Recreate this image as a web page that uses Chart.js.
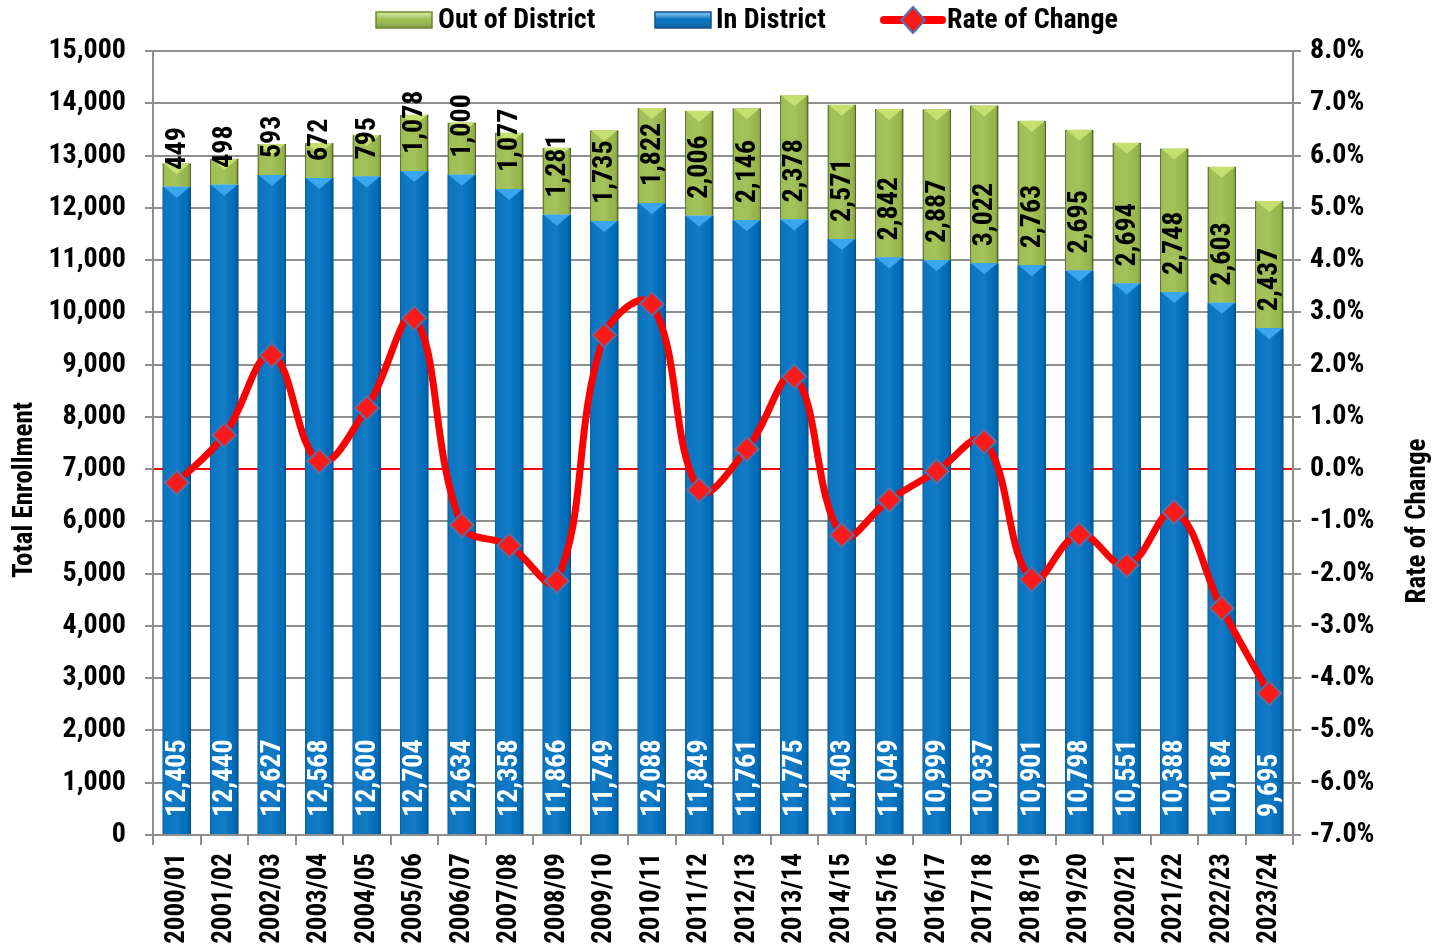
<!DOCTYPE html>
<html>
<head>
<meta charset="utf-8">
<script src="https://cdn.jsdelivr.net/npm/chart.js@4.4.1/dist/chart.umd.min.js"></script>
<style>
html,body{margin:0;padding:0;background:#ffffff;}
#wrap{width:1436px;height:945px;position:relative;overflow:hidden;}
</style>
</head>
<body>
<div id="wrap"><canvas id="c" width="1436" height="945"></canvas></div>
<script>
// ---- data ----
const categories = ['2000/01','2001/02','2002/03','2003/04','2004/05','2005/06','2006/07','2007/08','2008/09','2009/10','2010/11','2011/12','2012/13','2013/14','2014/15','2015/16','2016/17','2017/18','2018/19','2019/20','2020/21','2021/22','2022/23','2023/24'];
const inDistrict = [12405,12440,12627,12568,12600,12704,12634,12358,11866,11749,12088,11849,11761,11775,11403,11049,10999,10937,10901,10798,10551,10388,10184,9695];
const outDistrict = [449,498,593,672,795,1078,1000,1077,1281,1735,1822,2006,2146,2378,2571,2842,2887,3022,2763,2695,2694,2748,2603,2437];
const rateOfChange = [-0.26,0.65,2.18,0.15,1.17,2.89,-1.07,-1.46,-2.14,2.56,3.16,-0.40,0.38,1.77,-1.26,-0.59,-0.04,0.53,-2.11,-1.25,-1.84,-0.82,-2.66,-4.29];
const seriesLabels = ['In District','Out of District','Rate of Change'];
const axisTitles = ['Total Enrollment','Rate of Change'];

const FONT = "'Liberation Sans Narrow','Arial Narrow','Roboto Condensed','Liberation Sans',sans-serif";
const GRID = '#8f8f8f';
const BLUE = '#0070c0';
const GREEN = '#9cbd4e';
const GREEN_EDGE = '#6d8a2c';

Chart.defaults.font.family = FONT;
Chart.defaults.font.weight = 'bold';
Chart.defaults.font.size = 28;
Chart.defaults.color = '#000';

const fmt = v => Number(v).toLocaleString('en-US');

// bevel / shading for bars
const barShade = {
  id: 'barShade',
  afterDatasetDraw(chart, args) {
    const meta = args.meta;
    if (meta.type !== 'bar') return;
    const ctx = chart.ctx;
    const isBlue = args.index === 0;
    ctx.save();
    meta.data.forEach(el => {
      const p = el.getProps(['x','y','base','width'], true);
      const l = p.x - p.width/2, r = p.x + p.width/2;
      const t = Math.min(p.y, p.base), b = Math.max(p.y, p.base);
      const g = ctx.createLinearGradient(l, 0, r, 0);
      g.addColorStop(0, 'rgba(0,0,0,0.18)');
      g.addColorStop(0.12, 'rgba(255,255,255,0.04)');
      g.addColorStop(0.5, 'rgba(255,255,255,0.08)');
      g.addColorStop(0.88, 'rgba(0,0,0,0.04)');
      g.addColorStop(1, 'rgba(0,0,0,0.28)');
      ctx.fillStyle = g;
      ctx.fillRect(l, t, r - l, b - t);
      const th = Math.min(11, (b - t) / 2);
      ctx.beginPath();
      ctx.moveTo(l + 1, t);
      ctx.lineTo(r - 1, t);
      ctx.lineTo(p.x, t + th);
      ctx.closePath();
      ctx.fillStyle = isBlue ? '#3aa6ee' : '#c6e070';
      ctx.fill();
    });
    ctx.restore();
  }
};

// value labels (rotated, inside base)
const valueLabels = {
  id: 'valueLabels',
  afterDatasetsDraw(chart) {
    const ctx = chart.ctx;
    ctx.save();
    ctx.font = 'bold 28px ' + FONT;
    ctx.textAlign = 'left';
    ctx.textBaseline = 'middle';
    [0, 1].forEach(di => {
      const meta = chart.getDatasetMeta(di);
      const vals = chart.data.datasets[di].data;
      ctx.fillStyle = di === 0 ? '#ffffff' : '#000000';
      meta.data.forEach((el, i) => {
        const p = el.getProps(['x','base'], true);
        ctx.save();
        ctx.translate(p.x + 1, p.base - 17);
        ctx.rotate(-Math.PI/2);
        ctx.fillText(fmt(vals[i]), 0, 0);
        ctx.restore();
      });
    });
    ctx.restore();
  }
};

// axis titles + legend
const decorations = {
  id: 'decorations',
  afterDraw(chart) {
    const ctx = chart.ctx;
    ctx.save();
    ctx.fillStyle = '#000';
    ctx.font = 'bold 27px ' + FONT;
    ctx.textAlign = 'center';
    ctx.textBaseline = 'middle';
    ctx.save(); ctx.translate(25, 490); ctx.rotate(-Math.PI/2); ctx.fillText(axisTitles[0], 0, 0); ctx.restore();
    ctx.save(); ctx.translate(1418, 521); ctx.rotate(-Math.PI/2); ctx.fillText(axisTitles[1], 0, 0); ctx.restore();

    // legend
    ctx.font = 'bold 28px ' + FONT;
    ctx.textAlign = 'left';
    const cy = 20;
    const drawBox = (x, fill, edge, hi) => {
      const w = 56, h = 16, t = cy - h/2;
      ctx.fillStyle = fill;
      ctx.fillRect(x, t, w, h);
      const g = ctx.createLinearGradient(0, t, 0, t + h);
      g.addColorStop(0, hi);
      g.addColorStop(0.45, 'rgba(255,255,255,0)');
      g.addColorStop(1, 'rgba(0,0,0,0.25)');
      ctx.fillStyle = g;
      ctx.fillRect(x, t, w, h);
      ctx.strokeStyle = edge; ctx.lineWidth = 1.5;
      ctx.strokeRect(x, t, w, h);
    };
    const ds = chart.data.datasets;
    drawBox(376, ds[1].backgroundColor, GREEN_EDGE, 'rgba(220,240,150,0.9)');
    ctx.fillStyle = '#000'; ctx.fillText(ds[1].label, 438, cy + 1);
    drawBox(655, ds[0].backgroundColor, '#1b4f8a', 'rgba(120,200,255,0.9)');
    ctx.fillStyle = '#000'; ctx.fillText(ds[0].label, 716, cy + 1);
    // line symbol
    ctx.strokeStyle = ds[2].borderColor; ctx.lineWidth = 8; ctx.lineCap = 'round';
    ctx.beginPath(); ctx.moveTo(884, cy); ctx.lineTo(942, cy); ctx.stroke();
    ctx.beginPath();
    ctx.moveTo(913, cy - 13); ctx.lineTo(925, cy); ctx.lineTo(913, cy + 13); ctx.lineTo(901, cy); ctx.closePath();
    ctx.fillStyle = '#ff1a1a'; ctx.fill();
    ctx.strokeStyle = '#4f72a8'; ctx.lineWidth = 2; ctx.stroke();
    ctx.fillStyle = '#000'; ctx.fillText(ds[2].label, 947, cy + 1);
    ctx.restore();
  }
};

new Chart(document.getElementById('c'), {
  data: {
    labels: categories,
    datasets: [
      { type: 'bar', label: seriesLabels[0], data: inDistrict, backgroundColor: BLUE,
        borderColor: '#0a5a9a', borderWidth: 0, yAxisID: 'y', stack: 's', order: 1,
        barPercentage: 0.6, categoryPercentage: 1.0 },
      { type: 'bar', label: seriesLabels[1], data: outDistrict, backgroundColor: GREEN,
        borderColor: GREEN_EDGE, borderWidth: 1.5, yAxisID: 'y', stack: 's', order: 1,
        barPercentage: 0.6, categoryPercentage: 1.0 },
      { type: 'line', label: seriesLabels[2], data: rateOfChange, yAxisID: 'y1', order: 0,
        borderColor: '#ff0000', borderWidth: 7, tension: 0.4, fill: false,
        borderCapStyle: 'round', borderJoinStyle: 'round',
        pointStyle: 'rectRot', pointRadius: 12, pointBackgroundColor: '#ff1a1a',
        pointBorderColor: '#4f72a8', pointBorderWidth: 2 }
    ]
  },
  options: {
    responsive: false,
    animation: false,
    devicePixelRatio: 1,
    layout: { padding: { top: 51, left: 0, right: 0, bottom: 0 } },
    plugins: { legend: { display: false }, tooltip: { enabled: false } },
    scales: {
      x: {
        stacked: true,
        grid: { display: true, drawOnChartArea: false, offset: true, tickLength: 10, color: GRID, lineWidth: 2 },
        border: { display: true, color: GRID, width: 2 },
        ticks: { autoSkip: false, maxRotation: 90, minRotation: 90, padding: 8, color: '#000',
                 font: { size: 27, weight: 'bold', family: FONT } },
        afterFit: s => { s.height = 110; }
      },
      y: {
        stacked: true, position: 'left', min: 0, max: 15000,
        ticks: { stepSize: 1000, padding: 19, color: '#000', callback: v => fmt(v),
                 font: { size: 28, weight: 'bold', family: FONT } },
        grid: { color: c => (c.tick && c.tick.value === 7000) ? '#ff0000' : GRID,
                lineWidth: 2, tickColor: GRID, tickLength: 8 },
        border: { display: true, color: GRID, width: 2 },
        afterFit: s => { s.width = 153; }
      },
      y1: {
        position: 'right', min: -7, max: 8,
        ticks: { stepSize: 1, padding: 9, color: '#000', callback: v => Number(v).toFixed(1) + '%',
                 font: { size: 28, weight: 'bold', family: FONT } },
        grid: { drawOnChartArea: false, tickLength: 8, color: GRID, lineWidth: 2 },
        border: { display: true, color: GRID, width: 2 },
        afterFit: s => { s.width = 143; }
      }
    }
  },
  plugins: [barShade, valueLabels, decorations]
});
</script>
</body>
</html>
